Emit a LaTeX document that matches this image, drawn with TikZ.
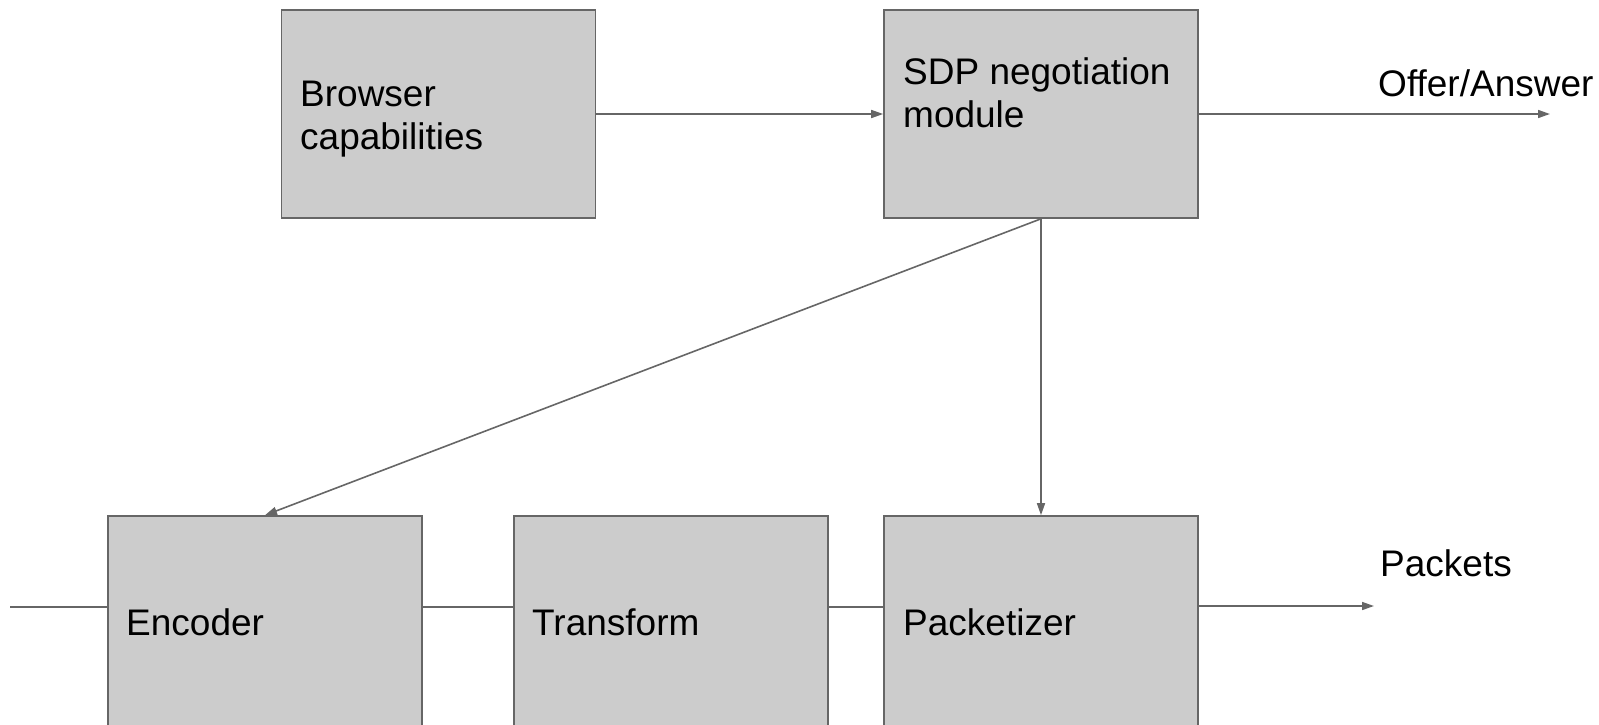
\documentclass[tikz,border=0pt]{standalone}
\usepackage{fontspec}
\setmainfont{Liberation Sans}
\usetikzlibrary{arrows.meta}
\definecolor{boxfill}{HTML}{CCCCCC}
\definecolor{wire}{HTML}{666666}

\begin{document}
\begin{tikzpicture}[
    block/.style={rectangle, draw=wire, line width=1.6pt, fill=boxfill,
        minimum width=314pt, minimum height=208pt, inner sep=0pt},
    lbl/.style={font=\fontsize{37}{43}\selectfont, align=left, inner sep=0pt},
    link/.style={draw=wire, line width=1.6pt},
    flow/.style={link, -{Triangle[length=12pt, width=8pt]}},
    x=1pt, y=-1pt]

    \useasboundingbox (0, 0) rectangle (1599, 724);
    \clip (0, 0) rectangle (1599, 724);

    % ----- top row: capabilities feed the negotiation module
    \node[block] (caps) at (438.5, 114) {};
    \node[block] (sdp)  at (1041, 114) {};
    \node[lbl, anchor=base west] (capsT) at (300, 149) {Browser\\capabilities};
    \node[lbl, anchor=base west] (sdpT)  at (903, 127) {SDP negotiation\\module};

    % ----- bottom row: the media pipeline (runs off the bottom edge)
    \node[block, minimum height=240pt] (enc) at (265, 636) {};
    \node[block, minimum height=240pt] (xfm) at (671, 636) {};
    \node[block, minimum height=240pt] (pkt) at (1041, 636) {};
    \node[lbl, anchor=base west] (encT) at (126, 635) {Encoder};
    \node[lbl, anchor=base west] (xfmT) at (532, 635) {Transform};
    \node[lbl, anchor=base west] (pktT) at (903, 635) {Packetizer};

    % ----- outputs
    \coordinate (oaEnd) at (1550, 114);
    \coordinate (pktEnd) at (1374, 606);
    \coordinate (src) at (10, 607);
    \node[lbl, anchor=base west] (oaT)  at (1378, 96) {Offer/Answer};
    \node[lbl, anchor=base west] (pktsT) at (1380, 576) {Packets};

    \draw[flow] (caps) -- (sdp);
    \draw[flow] (sdp.east) -- (oaEnd);
    \draw[flow] (sdp.south) -- (enc.north);
    \draw[flow] (sdp.south) -- (pkt.north);

    \draw[link] (src) -- (enc.west |- src);
    \draw[link] (enc.east |- src) -- (xfm.west |- src);
    \draw[link] (xfm.east |- src) -- (pkt.west |- src);
    \draw[flow] (pkt.east |- pktEnd) -- (pktEnd);
\end{tikzpicture}
\end{document}
